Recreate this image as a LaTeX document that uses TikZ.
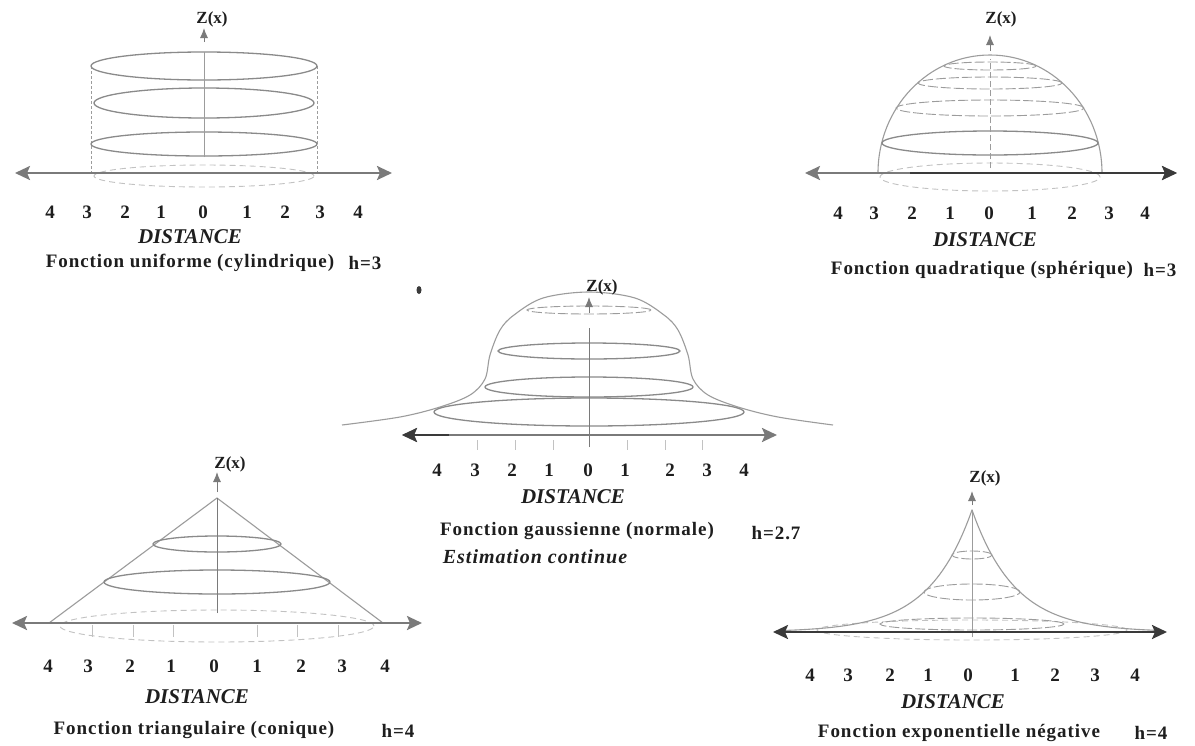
\documentclass[tikz,border=0pt]{standalone}
\usepackage{fontspec}
\setmainfont{Liberation Serif}
\newfontfamily\capfam[LetterSpace=5]{Liberation Serif}
\newfontfamily\estfam[LetterSpace=5]{Liberation Serif}
\usetikzlibrary{arrows.meta}
\definecolor{axgray}{HTML}{7A7A7A}
\definecolor{axdark}{HTML}{3A3A3A}
\definecolor{ellgray}{HTML}{8A8A8A}
\definecolor{domegray}{HTML}{9C9C9C}
\definecolor{litegray}{HTML}{C2C2C2}
\definecolor{txt}{HTML}{1E1E1E}
\newcommand\pcap{\capfam\bfseries\fontsize{19}{21}\selectfont}
\newcommand\ptick{\capfam\bfseries\fontsize{19}{21}\selectfont}
\newcommand\pdist{\bfseries\itshape\fontsize{21}{23}\selectfont}
\newcommand\pzx{\bfseries\fontsize{17}{19}\selectfont}
\newcommand\pest{\estfam\bfseries\itshape\fontsize{20}{22}\selectfont}
\tikzset{
  bigtip/.tip={Stealth[length=15pt,width=14pt,inset=3pt]},
  smalltip/.tip={Latex[length=10pt,width=8pt]},
  haxis/.style={line width=2.4pt,bigtip-bigtip},
  ellc/.style={draw=ellgray,line width=1.3pt},
  ellthin/.style={draw=domegray,line width=0.9pt,dash pattern=on 10pt off 3pt},
  ellbase/.style={draw=litegray,line width=0.9pt,dash pattern=on 6pt off 4pt},
  domec/.style={draw=domegray,line width=1.1pt},
  vline/.style={draw=domegray,line width=1pt},
  zarrow/.style={draw=axgray,line width=1pt,-smalltip},
  tickm/.style={draw=litegray,line width=1pt},
  lbl/.style={text=txt,inner sep=0pt},
  tlbl/.style={lbl,font=\ptick},
  dlbl/.style={lbl,font=\pdist},
  clbl/.style={lbl,font=\pcap},
  zlbl/.style={lbl,font=\pzx}
}
\begin{document}
\begin{tikzpicture}[x=1pt,y=-1pt]
\useasboundingbox (0,0) rectangle (1195,745);
\fill[white] (0,0) rectangle (1195,745);

%% ---------- Panel 1 : uniforme ----------
\begin{scope}[shift={(204,173)}]
  \coordinate (p1L) at (-189,0); \coordinate (p1R) at (188,0);
  \coordinate (p1b) at (0,-16); \coordinate (p1t) at (0,-121);
  \coordinate (p1a) at (0,-131); \coordinate (p1z) at (0,-145);
  \draw[ellbase] (0,3) ellipse [x radius=110pt,y radius=11pt];
  \draw[vline,dash pattern=on 3pt off 2pt] (-113,-107) -- (-113,2);
  \draw[vline,dash pattern=on 3pt off 2pt] (113,-107) -- (113,2);
  \draw[ellc] (0,-107) ellipse [x radius=113pt,y radius=14pt];
  \draw[ellc] (0,-70) ellipse [x radius=110pt,y radius=15pt];
  \draw[ellc] (0,-29) ellipse [x radius=113pt,y radius=12pt];
  \draw[vline] (p1b) -- (p1t);
  \draw[zarrow] (p1a) -- (p1z);
  \draw[haxis,axgray] (p1L) -- (p1R);
\end{scope}
\node[zlbl] (z1) at (212,19) {Z(x)};
\node[tlbl] (t1a) at (50,212) {4};
\node[tlbl] (t1b) at (87,212) {3};
\node[tlbl] (t1c) at (125,212) {2};
\node[tlbl] (t1d) at (161,212) {1};
\node[tlbl] (t1e) at (203,212) {0};
\node[tlbl] (t1f) at (247,212) {1};
\node[tlbl] (t1g) at (285,212) {2};
\node[tlbl] (t1h) at (320,212) {3};
\node[tlbl] (t1i) at (358,212) {4};
\node[dlbl] (d1) at (190,237) {DISTANCE};
\node[clbl] (c1) at (190,263) {Fonction uniforme (cylindrique)};
\node[clbl] (h1) at (365,263) {h=3};

%% ---------- Panel 2 : quadratique ----------
\begin{scope}[shift={(990,173)}]
  \coordinate (p2L) at (-185,0); \coordinate (p2R) at (187,0);
  \coordinate (p2m) at (-80,0);
  \coordinate (p2b) at (0,-5); \coordinate (p2t) at (0,-114);
  \coordinate (p2a) at (0,-122); \coordinate (p2z) at (0,-138);
  \draw[ellbase] (0,4) ellipse [x radius=110pt,y radius=14pt];
  \draw[domec] (-112,0) arc[start angle=180,end angle=0,x radius=112pt,y radius=118pt];
  \draw[ellthin] (0,-107) ellipse [x radius=46pt,y radius=4pt];
  \draw[ellthin] (0,-90) ellipse [x radius=72pt,y radius=6pt];
  \draw[ellthin] (0,-65) ellipse [x radius=94pt,y radius=8pt];
  \draw[ellc] (0,-30) ellipse [x radius=108pt,y radius=12pt];
  \draw[vline,dash pattern=on 6pt off 3pt] (p2b) -- (p2t);
  \draw[zarrow] (p2a) -- (p2z);
  \draw[haxis,axgray] (p2L) -- (p2R);
  \draw[line width=2.4pt,axdark,-bigtip] (p2m) -- (p2R);
\end{scope}
\node[zlbl] (z2) at (1001,19) {Z(x)};
\node[tlbl] (t2a) at (838,213) {4};
\node[tlbl] (t2b) at (874,213) {3};
\node[tlbl] (t2c) at (912,213) {2};
\node[tlbl] (t2d) at (950,213) {1};
\node[tlbl] (t2e) at (989,213) {0};
\node[tlbl] (t2f) at (1032,213) {1};
\node[tlbl] (t2g) at (1072,213) {2};
\node[tlbl] (t2h) at (1109,213) {3};
\node[tlbl] (t2i) at (1145,213) {4};
\node[dlbl] (d2) at (985,240) {DISTANCE};
\node[clbl] (c2) at (982,270) {Fonction quadratique (sphérique)};
\node[clbl] (h2) at (1160,270) {h=3};

%% ---------- Panel 3 : gaussienne ----------
\begin{scope}[shift={(589,435)}]
  \coordinate (p3L) at (-187,0); \coordinate (p3R) at (188,0);
  \coordinate (p3m) at (-140,0);
  \coordinate (p3b) at (0,12); \coordinate (p3t) at (0,-107);
  \coordinate (p3a) at (0,-122); \coordinate (p3z) at (0,-138);
  \draw[domec] plot[smooth,tension=0.55] coordinates {
    (-247,-10) (-189,-18) (-149,-28) (-119,-40) (-104,-56) (-99,-80)
    (-89,-105) (-75,-120) (-46,-137) (0,-143) (46,-137) (75,-120)
    (89,-105) (99,-80) (104,-56) (119,-40) (149,-28) (189,-18) (244,-10)};
  \draw[ellthin] (0,-125) ellipse [x radius=62pt,y radius=4pt];
  \draw[ellc] (0,-84) ellipse [x radius=91pt,y radius=8pt];
  \draw[ellc] (0,-48) ellipse [x radius=104pt,y radius=10pt];
  \draw[ellc] (0,-23) ellipse [x radius=155pt,y radius=14pt];
  \foreach \tx in {-112,-74,-36,38,76,113} \draw[tickm] (\tx,5) -- (\tx,15);
  \draw[vline,axgray] (p3b) -- (p3t);
  \draw[zarrow] (p3a) -- (p3z);
  \draw[haxis,axgray] (p3L) -- (p3R);
  \draw[line width=2.4pt,axdark,bigtip-] (p3L) -- (p3m);
\end{scope}
\fill[axdark] (419,290) ellipse [x radius=2.5pt,y radius=4pt];
\node[zlbl] (z3) at (602,287) {Z(x)};
\node[tlbl] (t3a) at (437,470) {4};
\node[tlbl] (t3b) at (475,470) {3};
\node[tlbl] (t3c) at (512,470) {2};
\node[tlbl] (t3d) at (549,470) {1};
\node[tlbl] (t3e) at (588,470) {0};
\node[tlbl] (t3f) at (625,470) {1};
\node[tlbl] (t3g) at (670,470) {2};
\node[tlbl] (t3h) at (707,470) {3};
\node[tlbl] (t3i) at (744,470) {4};
\node[dlbl] (d3) at (573,497) {DISTANCE};
\node[clbl] (c3) at (577,531) {Fonction gaussienne (normale)};
\node[clbl] (h3) at (776,533) {h=2.7};
\node[lbl,font=\pest] (e3) at (535,557) {Estimation continue};

%% ---------- Panel 4 : triangulaire ----------
\begin{scope}[shift={(217,623)}]
  \coordinate (p4L) at (-205,0); \coordinate (p4R) at (205,0);
  \coordinate (p4ap) at (0,-125); \coordinate (p4bl) at (-168,0); \coordinate (p4br) at (166,0);
  \coordinate (p4b) at (0,-10);
  \coordinate (p4a) at (0,-131); \coordinate (p4z) at (0,-151);
  \draw[ellbase] (0,3) ellipse [x radius=157pt,y radius=16pt];
  \draw[domec] (p4bl) -- (p4ap) -- (p4br);
  \draw[ellc] (0,-79) ellipse [x radius=64pt,y radius=8pt];
  \draw[ellc] (0,-41) ellipse [x radius=113pt,y radius=12pt];
  \foreach \tx in {-125,-84,-44,40,80,121} \draw[tickm] (\tx,2) -- (\tx,14);
  \draw[vline,axgray] (p4b) -- (p4ap);
  \draw[zarrow] (p4a) -- (p4z);
  \draw[haxis,axgray] (p4L) -- (p4R);
\end{scope}
\node[zlbl] (z4) at (230,464) {Z(x)};
\node[tlbl] (t4a) at (48,666) {4};
\node[tlbl] (t4b) at (88,666) {3};
\node[tlbl] (t4c) at (130,666) {2};
\node[tlbl] (t4d) at (171,666) {1};
\node[tlbl] (t4e) at (214,666) {0};
\node[tlbl] (t4f) at (257,666) {1};
\node[tlbl] (t4g) at (301,666) {2};
\node[tlbl] (t4h) at (342,666) {3};
\node[tlbl] (t4i) at (385,666) {4};
\node[dlbl] (d4) at (197,697) {DISTANCE};
\node[clbl] (c4) at (194,730) {Fonction triangulaire (conique)};
\node[clbl] (h4) at (398,731) {h=4};

%% ---------- Panel 5 : exponentielle ----------
\begin{scope}[shift={(972,632)}]
  \coordinate (p5L) at (-199,0); \coordinate (p5R) at (195,0);
  \coordinate (p5ap) at (0,-122); \coordinate (p5b) at (0,5);
  \coordinate (p5a) at (0,-127); \coordinate (p5z) at (0,-141);
  \draw[ellbase] (0,-2) ellipse [x radius=155pt,y radius=10pt];
  \draw[domec] plot[domain=-190:0,samples=60] (\x,{-122*exp(\x/43)})
               -- plot[domain=0:190,samples=60] (\x,{-122*exp(-\x/43)});
  \draw[ellthin] (0,-77) ellipse [x radius=20pt,y radius=4pt];
  \draw[ellthin] (0,-40) ellipse [x radius=48pt,y radius=8pt];
  \draw[ellthin] (0,-8) ellipse [x radius=92pt,y radius=6pt];
  \draw[vline] (p5b) -- (p5ap);
  \draw[zarrow] (p5a) -- (p5z);
  \draw[haxis,axdark] (p5L) -- (p5R);
\end{scope}
\node[zlbl] (z5) at (985,478) {Z(x)};
\node[tlbl] (t5a) at (810,675) {4};
\node[tlbl] (t5b) at (848,675) {3};
\node[tlbl] (t5c) at (890,675) {2};
\node[tlbl] (t5d) at (928,675) {1};
\node[tlbl] (t5e) at (968,675) {0};
\node[tlbl] (t5f) at (1015,675) {1};
\node[tlbl] (t5g) at (1055,675) {2};
\node[tlbl] (t5h) at (1095,675) {3};
\node[tlbl] (t5i) at (1135,675) {4};
\node[dlbl] (d5) at (953,702) {DISTANCE};
\node[clbl] (c5) at (959,733) {Fonction exponentielle négative};
\node[clbl] (h5) at (1151,733) {h=4};
\end{tikzpicture}
\end{document}
